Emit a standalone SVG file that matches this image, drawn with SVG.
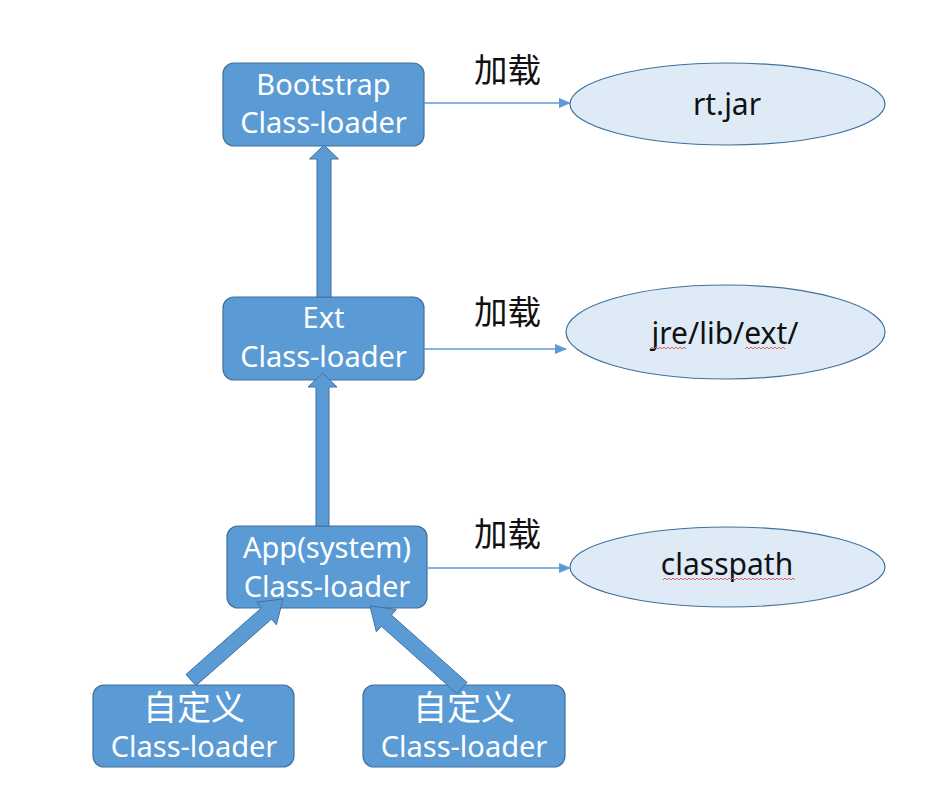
<svg xmlns="http://www.w3.org/2000/svg" width="941" height="802" viewBox="0 0 941 802">
<style>
.box{fill:#5B9BD5;stroke:#41719C;stroke-width:1.2}
.ell{fill:#DEEBF7;stroke:#41719C;stroke-width:1.2}
.wt{fill:#fff;font-family:"Noto Sans","Noto Sans CJK SC",sans-serif;font-size:29px;text-anchor:middle}
.cj{font-size:34px}
.bt{fill:#111;font-family:"Noto Sans","Noto Sans CJK SC",sans-serif;font-size:30px;text-anchor:middle}
.lbl{fill:#111;font-family:"Noto Sans CJK SC",sans-serif;font-size:33.5px}
.thin{stroke:#5B9BD5;stroke-width:1.3;fill:none;marker-end:url(#ah)}
.thick{fill:#5B9BD5;stroke:#41719C;stroke-width:1}
.sq{fill:none;stroke:#E06060;stroke-width:1}
</style>
<defs>
<marker id="ah" markerWidth="12" markerHeight="10" refX="11" refY="5" orient="auto" markerUnits="userSpaceOnUse">
<path d="M0,0 L12,5 L0,10 Z" fill="#5B9BD5"/>
</marker>
</defs>
<rect width="941" height="802" fill="#fff"/>
<g id="bootstrap">
<rect class="box" x="223" y="63" width="201" height="83" rx="11"/>
<text class="wt" x="323.5" y="95">Bootstrap</text>
<text class="wt" x="323.5" y="133">Class-loader</text>
</g>
<g id="ext">
<rect class="box" x="223" y="297" width="201" height="83" rx="11"/>
<text class="wt" x="323.5" y="328">Ext</text>
<text class="wt" x="323.5" y="367">Class-loader</text>
</g>
<g id="app">
<rect class="box" x="227" y="526" width="200" height="82" rx="11"/>
<text class="wt" x="327" y="558">App(system)</text>
<text class="wt" x="327" y="597">Class-loader</text>
</g>
<g id="custom1">
<rect class="box" x="93" y="685" width="201" height="82" rx="11"/>
<text class="wt cj" x="194" y="720">自定义</text>
<text class="wt" x="194" y="757">Class-loader</text>
</g>
<g id="custom2">
<rect class="box" x="363" y="685" width="202" height="82" rx="11"/>
<text class="wt cj" x="464" y="720">自定义</text>
<text class="wt" x="464" y="757">Class-loader</text>
</g>
<g id="rtjar">
<ellipse class="ell" cx="727.5" cy="104" rx="157.5" ry="41"/>
<text class="bt" x="727" y="115">rt.jar</text>
</g>
<g id="jreext">
<ellipse class="ell" cx="725.5" cy="332" rx="159.5" ry="47"/>
<text class="bt" x="725" y="344">jre/lib/ext/</text>
<path class="sq" d="M650,349 l2,-2 l2,2 l2,-2 l2,2 l2,-2 l2,2 l2,-2 l2,2 l2,-2 l2,2 l2,-2 l2,2 l2,-2 l2,2 l2,-2 l2,2 l2,-2 l2,2"/>
<path class="sq" d="M745,349 l2,-2 l2,2 l2,-2 l2,2 l2,-2 l2,2 l2,-2 l2,2 l2,-2 l2,2 l2,-2 l2,2 l2,-2 l2,2 l2,-2 l2,2 l2,-2 l2,2 l2,-2 l2,2"/>
</g>
<g id="classpath">
<ellipse class="ell" cx="727.5" cy="567" rx="157.5" ry="40"/>
<text class="bt" x="727" y="575">classpath</text>
<path class="sq" d="M663,580 l2,-2 l2,2 l2,-2 l2,2 l2,-2 l2,2 l2,-2 l2,2 l2,-2 l2,2 l2,-2 l2,2 l2,-2 l2,2 l2,-2 l2,2 l2,-2 l2,2 l2,-2 l2,2 l2,-2 l2,2 l2,-2 l2,2 l2,-2 l2,2 l2,-2 l2,2 l2,-2 l2,2 l2,-2 l2,2 l2,-2 l2,2 l2,-2 l2,2 l2,-2 l2,2 l2,-2 l2,2 l2,-2 l2,2 l2,-2 l2,2 l2,-2 l2,2 l2,-2 l2,2 l2,-2 l2,2 l2,-2 l2,2 l2,-2 l2,2 l2,-2 l2,2 l2,-2 l2,2 l2,-2 l2,2 l2,-2 l2,2 l2,-2 l2,2 l2,-2 l2,2"/>
</g>
<g id="connectors">
<line class="thin" x1="424" y1="103" x2="570" y2="103"/>
<line class="thin" x1="424" y1="349" x2="566" y2="349"/>
<line class="thin" x1="427" y1="568" x2="570" y2="568"/>
<polygon class="thick" points="317,297 317,159 309.5,159 324,145 338.5,159 331,159 331,297"/>
<polygon class="thick" points="316,526 316,387 308,387 322.5,373 337,387 329,387 329,526"/>
<polygon class="thick" points="186.0,674.4 261.5,607.9 256.6,602.2 283,599 276.4,624.8 271.5,619.1 196.0,685.6"/>
<polygon class="thick" points="457.0,693.6 381.4,626.2 376.4,631.8 370,606 396.4,609.4 391.4,615.0 467.0,682.4"/>
<text class="lbl" x="474" y="82">加载</text>
<text class="lbl" x="474" y="324">加载</text>
<text class="lbl" x="474" y="546">加载</text>
</g>
</svg>
